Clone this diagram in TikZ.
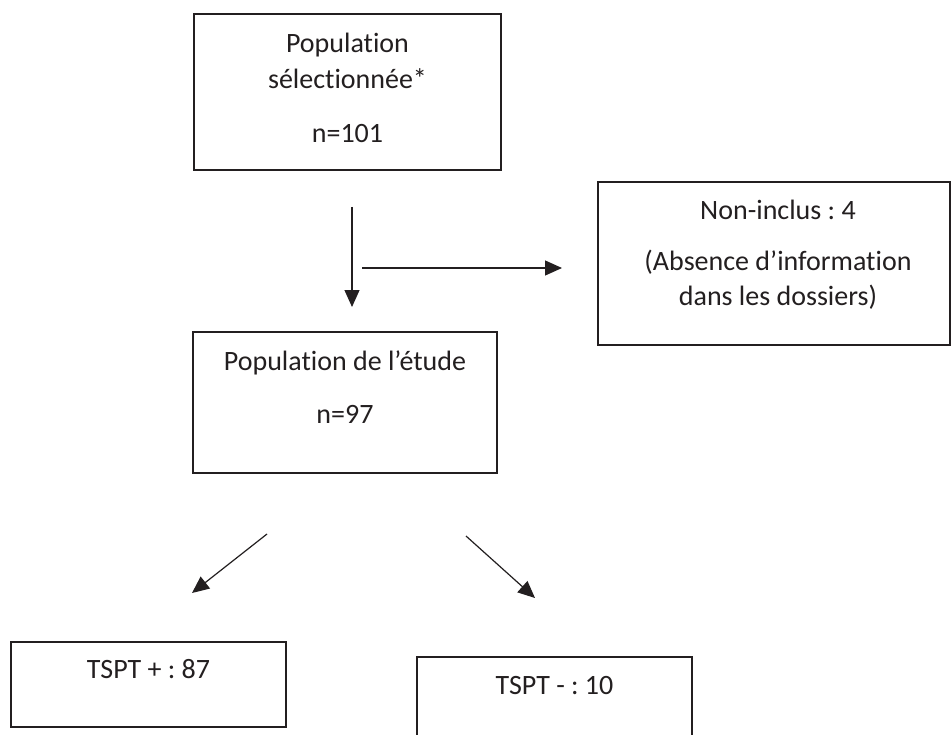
\documentclass[tikz,border=0pt]{standalone}
\usepackage{fontspec}
\setmainfont{Carlito}[RawFeature={-liga;-clig}]
\usetikzlibrary{arrows.meta}
\definecolor{ink}{HTML}{231F20}
\frenchspacing
\begin{document}
\begin{tikzpicture}[x=1pt,y=-1pt,
  box/.style={draw=ink, line width=1.3pt, minimum width=#1, inner sep=0pt, outer sep=0pt},
  txt/.style={anchor=base, text=ink, inner sep=0pt, font=\fontsize{28}{33}\selectfont\frenchspacing},
  arr/.style={draw=ink, line width=1.2pt, -{Triangle[length=17pt,width=15pt]}}]
\useasboundingbox (0,0) rectangle (952,735);
\clip (0,0) rectangle (952,735);
\fill[white] (0,0) rectangle (952,735);
% boxes
\node[box=307pt, minimum height=156pt] (b1) at (347.5,92) {};
\node[box=352pt, minimum height=163pt] (b2) at (774,263.5) {};
\node[box=304pt, minimum height=141pt] (b3) at (345,402.5) {};
\node[box=275pt, minimum height=85pt] (b4) at (148.5,684.5) {};
\node[box=275pt, minimum height=85pt] (b5) at (554.5,699.5) {};
% texts
\node[txt] (t1a) at (347.5,53) {Population};
\node[txt] (t1b) at (347.5,89) {sélectionnée*};
\node[txt] (t1c) at (347.5,143) {n=101};
\node[txt] (t2a) at (778,220) {Non-inclus : 4};
\node[txt] (t2b) at (778,270) {(Absence d’information};
\node[txt] (t2c) at (778,305) {dans les dossiers)};
\node[txt] (t3a) at (345,370) {Population de l’étude};
\node[txt] (t3b) at (345,423) {n=97};
\node[txt] (t4) at (148.5,678) {TSPT + : 87};
\node[txt] (t5) at (554.5,694) {TSPT - : 10};
% arrow end points
\coordinate (v1) at (352,207);
\coordinate (v2) at (352,307);
\coordinate (h1) at (362,268);
\coordinate (h2) at (562,268);
\coordinate (l1) at (267,534);
\coordinate (l2) at (192,593);
\coordinate (r1) at (466,536);
\coordinate (r2) at (535,598);
\draw[arr] (v1) -- (v2);
\draw[arr] (h1) -- (h2);
\draw[arr] (l1) -- (l2);
\draw[arr] (r1) -- (r2);
\end{tikzpicture}
\end{document}
